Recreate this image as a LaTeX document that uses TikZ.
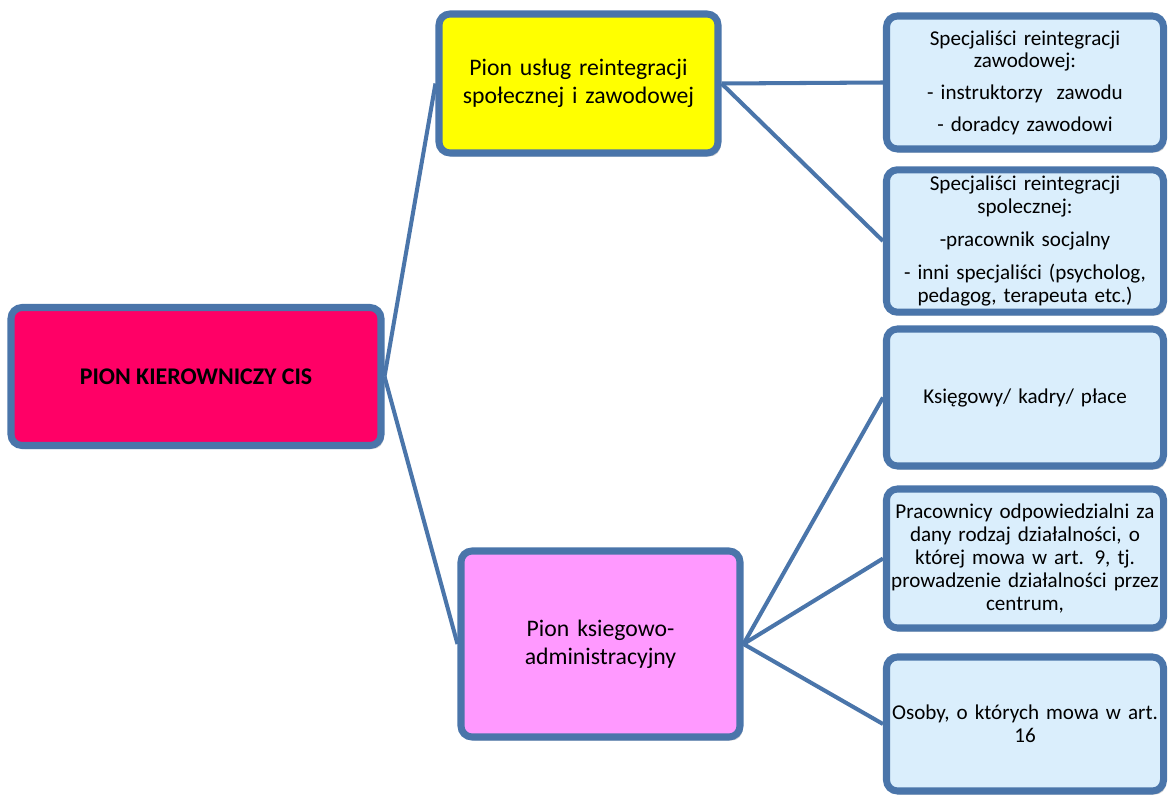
\documentclass[tikz,border=0pt]{standalone}
\usepackage{fontspec}
\setmainfont{Carlito}
\usepackage{tikz}
\usetikzlibrary{shadows}
\definecolor{frame}{HTML}{4A75AA}
\definecolor{headred}{HTML}{FF0066}
\definecolor{servyellow}{HTML}{FFFF00}
\definecolor{adminpink}{HTML}{FF99FF}
\definecolor{staffblue}{HTML}{DAEEFC}
\tikzstyle{unit} = [rectangle, rounded corners=0.22cm, draw=frame, line width=4pt, text centered, align=center, drop shadow={shadow xshift=1.5pt, shadow yshift=-2pt, opacity=0.35}]
\tikzstyle{head} = [unit, fill=headred, minimum width=7.4cm, minimum height=2.76cm, font=\fontsize{13.6}{16}\selectfont\bfseries]
\tikzstyle{division} = [unit, minimum width=5.58cm, text width=5.2cm, font=\fontsize{13.5}{16}\selectfont]
\tikzstyle{staff} = [unit, fill=staffblue, minimum width=5.52cm, minimum height=2.7cm, text width=5.4cm, inner xsep=2pt, font=\fontsize{12}{13}\selectfont]
\tikzstyle{link} = [draw=frame, line width=2.3pt]

\begin{document}
\begin{tikzpicture}[node distance=3.2cm]
\useasboundingbox (-3.92,7.48) rectangle (19.46,-8.44);

\node [head, yshift=-0.05cm] (root) {PION KIEROWNICZY CIS};
\node [division, fill=servyellow, minimum height=2.78cm, right of=root, xshift=4.45cm, yshift=5.86cm] (services) {Pion usług reintegracji\\ społecznej i zawodowej};
\node [division, fill=adminpink, minimum height=3.72cm, right of=root, xshift=4.89cm, yshift=-5.35cm] (admin) {Pion ksiegowo-\\ administracyjny};
\node [staff, minimum height=2.66cm, right of=services, xshift=5.73cm, yshift=0.02cm] (prof) {Specjaliści reintegracji\\ zawodowej:\\[5pt] - instruktorzy~~zawodu\\[5pt] - doradcy zawodowi};
\node [staff, minimum height=2.68cm, below of=prof, yshift=0.03cm] (social) {Specjaliści reintegracji\\ spolecznej:\\[6pt] -pracownik socjalny\\[6pt] - inni specjaliści (psycholog,\\ pedagog, terapeuta etc.)};
\node [staff, minimum height=2.74cm, below of=social, yshift=0.07cm] (account) {Księgowy/ kadry/ płace};
\node [staff, minimum height=2.78cm, below of=account, yshift=-0.02cm] (workers) {Pracownicy odpowiedzialni za\\ dany rodzaj działalności, o\\ której mowa w art. 9, tj.\\ prowadzenie działalności przez\\ centrum,};
\node [staff, minimum height=2.68cm, below of=workers, yshift=-0.11cm] (persons) {Osoby, o których mowa w art.\\ 16};

\draw [link] (root.east) -- (services.west);
\draw [link] (root.east) -- (admin.west);
\draw [link] (services.east) -- (prof.west);
\draw [link] (services.east) -- (social.west);
\draw [link] (admin.east) -- (account.west);
\draw [link] (admin.east) -- (workers.west);
\draw [link] (admin.east) -- (persons.west);

\end{tikzpicture}
\end{document}
